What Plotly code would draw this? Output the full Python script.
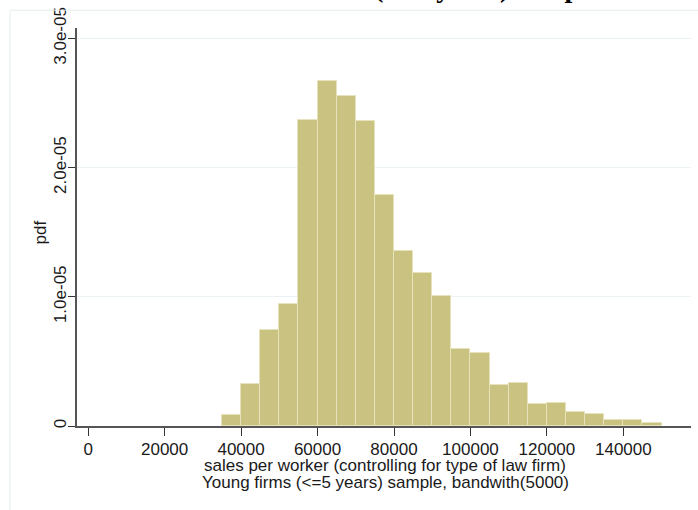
import plotly.graph_objects as go

bin_starts = list(range(35000, 150000, 5000))
density_e5 = [0.084, 0.327, 0.747, 0.946, 2.367, 2.668, 2.553, 2.362, 1.790, 1.357,
              1.186, 1.010, 0.599, 0.569, 0.314, 0.334, 0.173, 0.181, 0.105, 0.090,
              0.046, 0.046, 0.020]
bin_width = 5000
x_ticks = [0, 20000, 40000, 60000, 80000, 100000, 120000, 140000]
y_ticks = [0, 1e-5, 2e-5, 3e-5]
y_tick_labels = ["0", "1.0e-05", "2.0e-05", "3.0e-05"]
x_title_1 = "sales per worker (controlling for type of law firm)"
x_title_2 = "Young firms (<=5 years) sample, bandwith(5000)"
y_title = "pdf"
top_title = "(<=5 years) sample"

centers = [s + bin_width / 2 for s in bin_starts]
dens = [v * 1e-5 for v in density_e5]

fig = go.Figure()
fig.add_trace(go.Bar(
    x=centers, y=dens, width=bin_width,
    marker=dict(color="#C9C280", line=dict(color="#E6E3BC", width=1)),
    hoverinfo="x+y",
))

L, R, T, B = 77, 7, 23, 84
W, H = 698, 510
pw, ph = W - L - R, H - T - B

def px(xp):
    return (xp - L) / pw

def py(yp):
    return (H - B - yp) / ph

TXT = "#1a1a1a"
FS = 17

fig.update_layout(
    width=W, height=H,
    margin=dict(l=L, r=R, t=T, b=B, pad=0),
    paper_bgcolor="white", plot_bgcolor="white",
    showlegend=False, bargap=0,
    font=dict(family="Liberation Sans, Arial", size=FS, color=TXT),
    xaxis=dict(
        range=[-2930, 157700], tickvals=x_ticks,
        ticktext=[str(v) for v in x_ticks],
        showgrid=False, zeroline=False,
        showline=True, linecolor="#555555", linewidth=1.5,
        ticks="outside", ticklen=8, tickcolor="#333333", tickwidth=1.2,
        tickfont=dict(size=FS, color=TXT), ticklabelstandoff=-1,
    ),
    yaxis=dict(
        range=[0, 3.081e-5], tickvals=y_ticks, ticktext=y_tick_labels,
        tickangle=-90,
        showgrid=True, gridcolor="#EAF2F3", gridwidth=1, zeroline=False,
        showline=True, linecolor="#555555", linewidth=1.5,
        ticks="outside", ticklen=7, tickcolor="#333333", tickwidth=1.2,
        tickfont=dict(size=FS, color=TXT), ticklabelstandoff=-5,
    ),
    shapes=[
        dict(type="line", xref="paper", yref="paper",
             x0=px(10), x1=px(10), y0=py(520), y1=py(5),
             line=dict(color="#E4ECEE", width=1)),
        dict(type="line", xref="paper", yref="paper",
             x0=px(10), x1=px(710), y0=py(5), y1=py(5),
             line=dict(color="#E4ECEE", width=1)),
    ],
    annotations=[
        dict(text=x_title_1, xref="paper", yref="paper",
             x=px(385), y=py(466), xanchor="center", yanchor="middle",
             showarrow=False, font=dict(size=FS, color=TXT)),
        dict(text=x_title_2, xref="paper", yref="paper",
             x=px(385), y=py(483), xanchor="center", yanchor="middle",
             showarrow=False, font=dict(size=FS, color=TXT)),
        dict(text=y_title, xref="paper", yref="paper", textangle=-90,
             x=px(40), y=py(230), xanchor="center", yanchor="middle",
             showarrow=False, font=dict(size=FS, color=TXT)),
        dict(text="<b>" + top_title + "</b>", xref="paper", yref="paper",
             x=px(372), y=py(0), xanchor="left", yanchor="bottom",
             showarrow=False,
             font=dict(family="Liberation Serif", size=28, color="black")),
    ],
)

fig.write_html("out.html")
